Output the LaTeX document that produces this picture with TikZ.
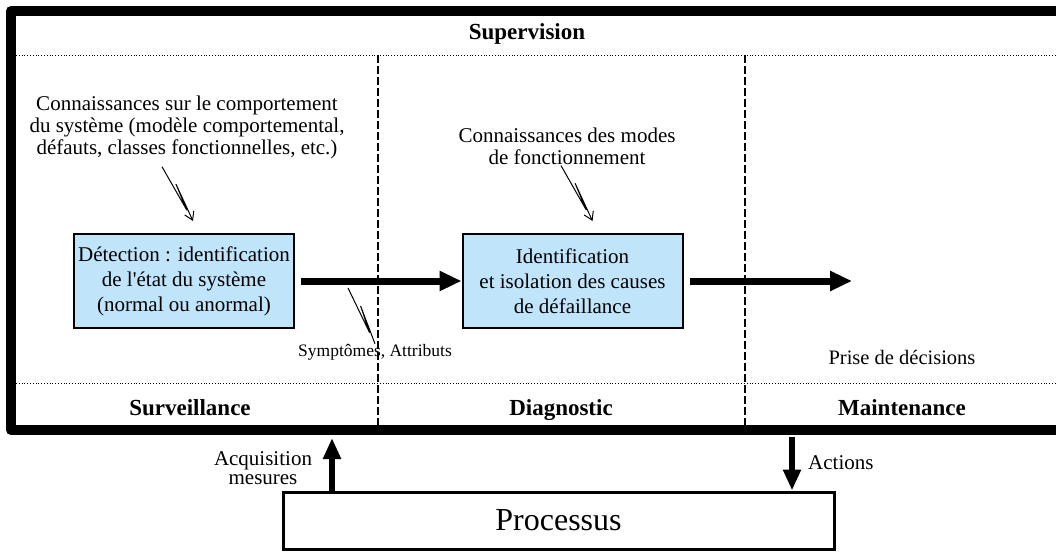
\documentclass[tikz,border=0pt]{standalone}
\usepackage{fontspec}
\setmainfont{Liberation Serif}[Ligatures=TeXOff]
\usetikzlibrary{arrows.meta,calc,positioning}
\definecolor{boxblue}{RGB}{192,228,250}
\tikzset{
    frame/.style={line width=10pt,line join=round},
    band/.style={dotted,line width=0.8pt},
    split/.style={dash pattern=on 8pt off 3pt,line width=1.6pt},
    task/.style={draw,line width=2pt,fill=boxblue,minimum width=220pt,minimum height=94pt,
        inner sep=0pt,align=center,font=\fontsize{21}{25}\selectfont},
    know/.style={align=center,inner sep=0pt,font=\fontsize{21}{22}\selectfont},
    zone/.style={anchor=base,inner sep=0pt,font=\fontsize{23}{26}\selectfont\bfseries},
    flow/.style={line width=7pt,-{Triangle[length=22pt,width=19pt]}},
    io/.style={line width=6pt,-{Triangle[length=21pt,width=17pt]}},
    zig/.style={line width=1pt,to path={-- ($(\tikztostart)!0.8!(\tikztotarget)$)
        -- ($(\tikztostart)!0.35!(\tikztotarget)!3.5pt!90:(\tikztotarget)$) -- (\tikztotarget)}},
    hint/.style={zig,-{Straight Barb[length=8pt,width=10pt]}}
}
\begin{document}
\begin{tikzpicture}[x=1pt,y=-1pt]
    \useasboundingbox (0,0) rectangle (1056,551);
    % supervision frame
    \draw[frame] (1056,11) -- (11,11) -- (11,430) -- (1056,430);
    \draw[band] (16,55) -- (1056,55);
    \draw[band] (16,383) -- (1056,383);
    \draw[split] (378,55) -- (378,425);
    \draw[split] (745,55) -- (745,425);
    \node[zone] (sup) at (527,40) {Supervision};
    \node[zone] (surv) at (190,415) {Surveillance};
    \node[zone] (diagz) at (561,415) {Diagnostic};
    \node[zone] (maint) at (902,415) {Maintenance};
    % knowledge
    \node[know] (k1) at (187,127) {Connaissances sur le comportement\\du système (modèle comportemental,\\défauts, classes fonctionnelles, etc.)};
    \node[know] (k2) at (567,146) {Connaissances des modes\\de fonctionnement};
    % tasks
    \node[task] (det) at (184,281) {Détection : identification\\de l'état du système\\(normal ou anormal)};
    \node[task] (diag) at (572.5,281) {Identification\\et isolation des causes\\de défaillance};
    \coordinate (decide) at (852,281);
    \draw[flow] ([xshift=6pt]det.east) -- (diag.west);
    \draw[flow] ([xshift=6pt]diag.east) -- (decide);
    \draw[hint] ([xshift=-25pt,yshift=-8pt]k1.south) to ([xshift=9pt,yshift=12pt]det.north);
    \draw[hint] ([xshift=-6pt,yshift=-1pt]k2.south) to ([xshift=20pt,yshift=12pt]diag.north);
    \node[inner sep=0pt,font=\fontsize{17.5}{20}\selectfont] (sym) at (375,352) {Symptômes, Attributs};
    \node[inner sep=0pt,font=\fontsize{20.5}{24}\selectfont] (pdd) at (902,357) {Prise de décisions};
    \coordinate (symtop) at (348,288);
    \draw[zig] (symtop) to (sym.north);
    % process
    \node[draw,line width=3pt,minimum width=551pt,minimum height=57pt,inner sep=0pt,
        font=\fontsize{32}{36}\selectfont] (proc) at (558.5,520.5) {Processus};
    \coordinate (acq) at (332,438);
    \coordinate (act) at (792,437);
    \draw[io] (proc.north -| acq) -- (acq);
    \draw[io] (act) -- (proc.north -| act);
    \node[know,font=\fontsize{21}{19}\selectfont] (acqlab) at (263,468) {Acquisition\\mesures};
    \node[anchor=west,inner sep=0pt,font=\fontsize{21}{24}\selectfont] (actlab) at (808,463) {Actions};
\end{tikzpicture}
\end{document}
